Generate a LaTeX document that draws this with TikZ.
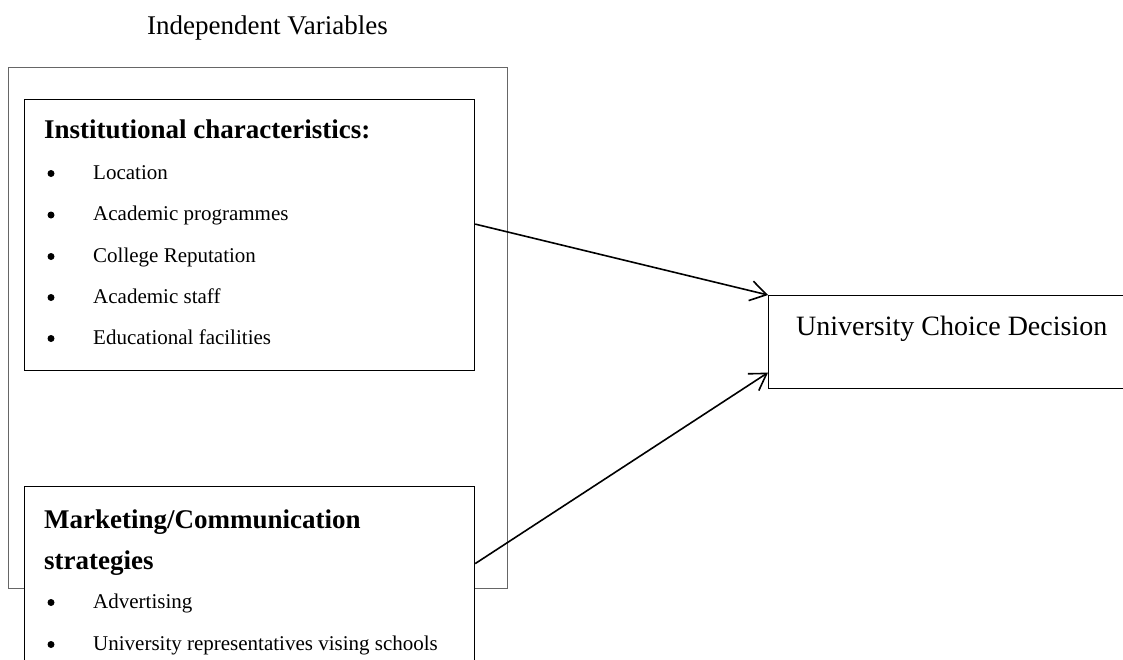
\documentclass[tikz,border=0pt]{standalone}
\usepackage{fontspec}
\setmainfont{Liberation Serif}
\usetikzlibrary{arrows.meta}
\begin{document}
\begin{tikzpicture}[x=1pt,y=-1pt,
  box/.style={draw=black, line width=1.2pt, fill=white, inner sep=0pt, anchor=north west},
  outerbox/.style={draw=black!60, line width=1pt, inner sep=0pt, anchor=north west},
  txt/.style={anchor=base west, inner sep=0pt},
  itemtxt/.style={txt, font=\fontsize{21}{25}\selectfont},
  headtxt/.style={txt, font=\fontsize{27}{32}\selectfont\bfseries},
  bul/.style={circle, fill=black, inner sep=0pt, minimum size=7pt},
  link/.style={line width=1.6pt, -{Straight Barb[length=16pt,width=20pt,line width=1.6pt]}}
]
\useasboundingbox (0,0) rectangle (1123,659);
\clip (0,0) rectangle (1123,659);

\node[txt, font=\fontsize{27}{32}\selectfont] (title) at (147,34) {Independent Variables};

\node[outerbox, minimum width=499pt, minimum height=521pt] (outer) at (8,67) {};

% top inner box
\node[box, minimum width=450pt, minimum height=271pt] (topbox) at (24,99) {};
\node[headtxt] (h1) at (44,138) {Institutional characteristics:};
\node[bul] (b1) at (51,173.5) {};
\node[itemtxt] (i1) at (93,179) {Location};
\node[bul] (b2) at (51,215) {};
\node[itemtxt] (i2) at (93,220.5) {Academic programmes};
\node[bul] (b3) at (51,256.5) {};
\node[itemtxt] (i3) at (93,262) {College Reputation};
\node[bul] (b4) at (51,297.5) {};
\node[itemtxt] (i4) at (93,303) {Academic staff};
\node[bul] (b5) at (51,338.5) {};
\node[itemtxt] (i5) at (93,344) {Educational facilities};

% bottom inner box
\node[box, minimum width=450pt, minimum height=250pt] (botbox) at (24,486) {};
\node[headtxt] (h2) at (44,528) {Marketing/Communication};
\node[headtxt] (h3) at (44,569) {strategies};
\node[bul] (b6) at (51,602.5) {};
\node[itemtxt] (i6) at (93,608) {Advertising};
\node[bul] (b7) at (51,644.5) {};
\node[itemtxt] (i7) at (93,650) {University representatives vising schools};

% dependent variable
\node[box, minimum width=370pt, minimum height=93pt] (dec) at (768,295) {};
\node[txt, font=\fontsize{28}{33}\selectfont] (dectxt) at (796,335) {University Choice Decision};

% connectors
\draw[link] ([yshift=11pt]topbox.east) -- (dec.north west);
\draw[link] ([yshift=48pt]botbox.east) -- ([yshift=-30.5pt]dec.west);
\end{tikzpicture}
\end{document}
